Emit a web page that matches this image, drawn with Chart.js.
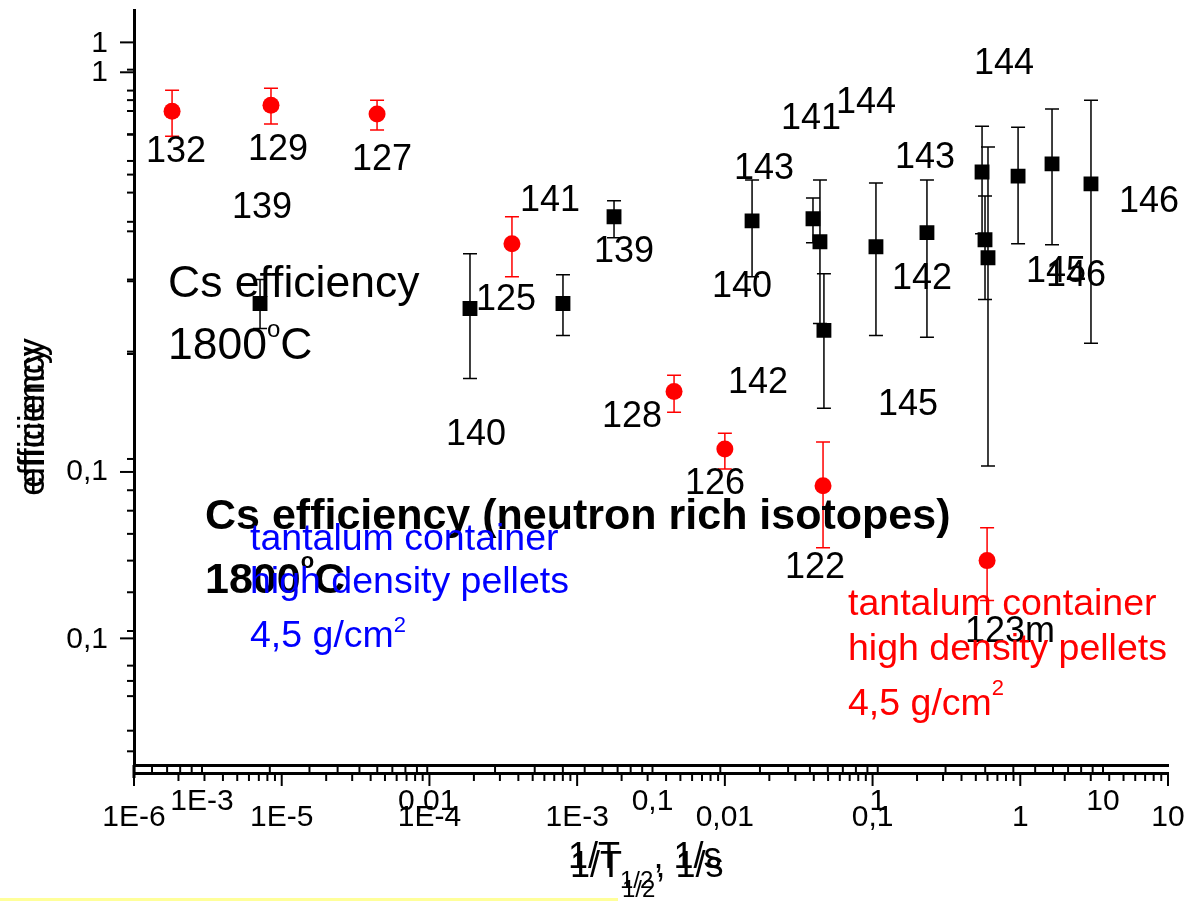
<!DOCTYPE html>
<html>
<head>
<meta charset="utf-8">
<script src="https://cdn.jsdelivr.net/npm/chart.js@4.4.1/dist/chart.umd.min.js"></script>
<style>
  html, body { margin: 0; padding: 0; background: #fff; }
  #wrap { width: 1188px; height: 901px; }
</style>
</head>
<body>
<div id="wrap"><canvas id="cs-chart" width="1188" height="901"></canvas></div>
<script>
// tantalum container, high density pellets (red) - 1/T1/2 in 1/s, efficiency
const redIsotopes = ['132', '129', '127', '125', '128', '126', '122', '123m'];
const redRate = [1.81e-6, 8.46e-6, 4.42e-5, 3.62e-4, 4.53e-3, 1.0e-2, 4.62e-2, 0.596];
const redEff = [0.799, 0.827, 0.786, 0.3725, 0.159, 0.1141, 0.0923, 0.060];
const redEffLow = [0.692, 0.742, 0.717, 0.308, 0.1411, 0.1017, 0.0646, 0.0477];
const redEffHigh = [0.902, 0.912, 0.851, 0.435, 0.1746, 0.125, 0.1188, 0.0725];

// neutron rich isotopes (black squares), main axes
const nrIsotopes = ['139', '140', '141', '143', '142', '144', '145', '146'];
const nrRate = [1.777e-3, 1.528e-2, 3.95e-2, 0.551, 0.577, 0.966, 1.64, 3.01];
const nrEff = [0.435, 0.425, 0.43, 0.563, 0.381, 0.55, 0.59, 0.526];
const nrEffLow = [0.3855, 0.308, 0.3746, 0.3945, 0.27, 0.3725, 0.3703, 0.2098];
const nrEffHigh = [0.4768, 0.538, 0.485, 0.733, 0.4906, 0.729, 0.809, 0.851];

// the same isotopes again on the second (overlaid) pair of axes
const nr2Isotopes = ['139', '140', '141', '142', '143', '144', '145', '146'];
const nr2Rate = [1.81e-3, 1.548e-2, 4.005e-2, 0.577, 0.554, 0.982, 1.654, 3.087];
const nr2Eff = [0.3646, 0.3577, 0.3646, 0.3287, 0.4629, 0.4541, 0.4794, 0.4352];
const nr2EffLow = [0.331, 0.273, 0.3224, 0.2433, 0.3376, 0.3224, 0.32, 0.1947];
const nr2EffHigh = [0.4, 0.442, 0.4076, 0.409, 0.5878, 0.581, 0.5878, 0.6675];

const FONT = '"Liberation Sans", Arial, sans-serif';
const TICK_FONT = '30px ' + FONT;

function isPow10(v) {
  const l = Math.log10(v);
  return Math.abs(l - Math.round(l)) < 1e-6;
}

// labels only on decades, with decimal commas like the original
function decadeLabel(v) {
  if (!isPow10(v)) return '';
  const e = Math.round(Math.log10(v));
  if (e <= -3) return '1E' + e;
  if (e === -2) return '0,01';
  if (e === -1) return '0,1';
  return String(Math.pow(10, e));
}

function decadeTicks(scale) {
  const out = [];
  const lo = Math.floor(Math.log10(scale.min));
  const hi = Math.ceil(Math.log10(scale.max));
  for (let e = lo; e <= hi; e++) {
    for (let m = 1; m < 10; m++) {
      const v = m * Math.pow(10, e);
      if (v >= scale.min * 0.9999 && v <= scale.max * 1.0001) out.push({ value: v });
    }
  }
  scale.ticks = out;
}

// secondary axes have no room of their own, so their labels are drawn by tickMarks
function logAxis(pos, weight, min, max, padding, size, showLabels) {
  return {
    type: 'logarithmic',
    position: pos,
    weight: weight,
    min: min,
    max: max,
    grid: { display: false, drawTicks: false, tickLength: 0 },
    border: { display: true, color: '#000', width: 3 },
    ticks: {
      display: showLabels,
      font: { family: FONT, size: 30 },
      color: '#000',
      padding: padding,
      autoSkip: false,
      maxRotation: 0,
      minRotation: 0,
      callback: decadeLabel,
    },
    afterBuildTicks: decadeTicks,
    afterFit: (s) => {
      if (s.isHorizontal()) s.height = size;
      else s.width = size;
      s.paddingLeft = 0;
      s.paddingRight = 0;
      s.paddingTop = 0;
      s.paddingBottom = 0;
    },
  };
}

function points(xs, ys) {
  return xs.map((x, i) => ({ x: x, y: ys[i] }));
}

// error bars drawn under the markers
const errorBars = {
  id: 'errorBars',
  beforeDatasetsDraw(chart) {
    const ctx = chart.ctx;
    chart.data.datasets.forEach((ds) => {
      const xs = chart.scales[ds.xAxisID];
      const ys = chart.scales[ds.yAxisID];
      ctx.save();
      ctx.strokeStyle = ds.errColor;
      ctx.lineWidth = 1.5;
      ds.data.forEach((p, j) => {
        const px = xs.getPixelForValue(p.x);
        const top = ys.getPixelForValue(ds.errHigh[j]);
        const bot = ys.getPixelForValue(ds.errLow[j]);
        ctx.beginPath();
        ctx.moveTo(px, top);
        ctx.lineTo(px, bot);
        ctx.moveTo(px - 7, top);
        ctx.lineTo(px + 7, top);
        ctx.moveTo(px - 7, bot);
        ctx.lineTo(px + 7, bot);
        ctx.stroke();
      });
      ctx.restore();
    });
  },
};

// long ticks on decades, short ticks in between, plus the secondary labels
const tickMarks = {
  id: 'tickMarks',
  afterDraw(chart) {
    const ctx = chart.ctx;
    ctx.save();
    ctx.strokeStyle = '#000';
    ctx.fillStyle = '#000';
    ctx.lineWidth = 2;
    [['x', 13, 8], ['x2', 10, 8], ['y', 14, 7], ['y2', 14, 7]].forEach(([id, major, minor]) => {
      const s = chart.scales[id];
      s.ticks.forEach((t) => {
        const len = isPow10(t.value) ? major : minor;
        const p = s.getPixelForValue(t.value);
        ctx.beginPath();
        if (s.isHorizontal()) {
          ctx.moveTo(p, s.top);
          ctx.lineTo(p, s.top + len);
        } else {
          ctx.moveTo(s.right, p);
          ctx.lineTo(s.right - len, p);
        }
        ctx.stroke();
      });
    });

    ctx.font = TICK_FONT;
    ctx.textBaseline = 'middle';
    const x2 = chart.scales.x2;
    ctx.textAlign = 'center';
    x2.ticks.forEach((t) => {
      if (isPow10(t.value)) ctx.fillText(decadeLabel(t.value), x2.getPixelForValue(t.value), x2.top + 37);
    });
    const y2 = chart.scales.y2;
    ctx.textAlign = 'right';
    y2.ticks.forEach((t) => {
      if (isPow10(t.value)) ctx.fillText(decadeLabel(t.value), y2.right - 26, y2.getPixelForValue(t.value) + 1);
    });

    // y axis line runs down through both x axes
    const y = chart.scales.y;
    ctx.lineWidth = 3;
    ctx.beginPath();
    ctx.moveTo(y.right, y.bottom);
    ctx.lineTo(y.right, chart.scales.x.top + 5);
    ctx.stroke();
    ctx.restore();
  },
};

// isotope labels as they sit on the slide
const pointLabels = [
  ['132', 176, 152], ['129', 278, 150], ['127', 382, 160], ['125', 506, 300],
  ['128', 632, 417], ['126', 715, 484], ['122', 815, 568], ['123m', 1010, 632],
  ['139', 262, 208], ['141', 550, 201], ['139', 624, 252], ['140', 476, 435],
  ['143', 764, 169], ['140', 742, 287], ['141', 811, 119], ['144', 866, 103],
  ['142', 758, 383], ['143', 925, 158], ['142', 922, 279], ['145', 908, 405],
  ['144', 1004, 64], ['146', 1149, 202], ['145', 1056, 272], ['146', 1076, 276],
];

function runs(ctx, x, y, parts, color, bold) {
  ctx.fillStyle = color;
  ctx.textAlign = 'left';
  ctx.textBaseline = 'alphabetic';
  let cx = x;
  parts.forEach(([t, size, dy]) => {
    ctx.font = (bold ? 'bold ' : '') + size + 'px ' + FONT;
    ctx.fillText(t, cx, y + dy);
    cx += ctx.measureText(t).width;
  });
}

const slideText = {
  id: 'slideText',
  afterDraw(chart) {
    const ctx = chart.ctx;
    ctx.save();
    ctx.fillStyle = '#000';
    ctx.font = '36px ' + FONT;
    ctx.textAlign = 'center';
    ctx.textBaseline = 'middle';
    pointLabels.forEach(([t, x, y]) => ctx.fillText(t, x, y));

    runs(ctx, 168, 297, [['Cs efficiency', 44.5, 0]], '#000', false);
    runs(ctx, 168, 359, [['1800', 44.5, 0], ['o', 24, -22], ['C', 44.5, 0]], '#000', false);

    runs(ctx, 205, 529, [['Cs efficiency (neutron rich isotopes)', 43, 0]], '#000', true);
    runs(ctx, 205, 593, [['1800', 43, 0], ['o', 22, -25], ['C', 43, 0]], '#000', true);

    runs(ctx, 250, 550, [['tantalum container', 37.5, 0]], '#0000ff', false);
    runs(ctx, 250, 593, [['high density pellets', 37.5, 0]], '#0000ff', false);
    runs(ctx, 250, 647, [['4,5 g/cm', 37.5, 0], ['2', 22, -15]], '#0000ff', false);

    runs(ctx, 848, 615, [['tantalum container', 37.5, 0]], '#ff0000', false);
    runs(ctx, 848, 660, [['high density pellets', 37.5, 0]], '#ff0000', false);
    runs(ctx, 848, 715, [['4,5 g/cm', 37.5, 0], ['2', 22, -20]], '#ff0000', false);

    // axis titles, doubled as in the overlaid original
    [[0, 0], [2, 9]].forEach(([dx, dy]) => {
      runs(ctx, 568 + dx, 868 + dy, [['1/T', 36, 0], ['1/2', 24, 20], [', 1/s', 36, 0]], '#000', false);
    });
    [0, 8].forEach((dy) => {
      ctx.save();
      ctx.translate(44, 413 + dy);
      ctx.rotate(-Math.PI / 2);
      ctx.font = '36px ' + FONT;
      ctx.textAlign = 'center';
      ctx.textBaseline = 'alphabetic';
      ctx.fillStyle = '#000';
      ctx.fillText('efficiency', 0, 0);
      ctx.restore();
    });

    ctx.fillStyle = '#ffff99';
    ctx.fillRect(0, 898, 618, 3);
    ctx.restore();
  },
};

new Chart(document.getElementById('cs-chart'), {
  type: 'scatter',
  data: {
    datasets: [
      {
        label: 'Ta container',
        data: points(redRate, redEff),
        xAxisID: 'x',
        yAxisID: 'y',
        pointStyle: 'circle',
        pointRadius: 8.5,
        backgroundColor: '#ff0000',
        borderWidth: 0,
        errLow: redEffLow,
        errHigh: redEffHigh,
        errColor: '#ff0000',
      },
      {
        label: 'neutron rich',
        data: points(nrRate, nrEff),
        xAxisID: 'x',
        yAxisID: 'y',
        pointStyle: 'rect',
        pointRadius: 10.5,
        backgroundColor: '#000',
        borderWidth: 0,
        errLow: nrEffLow,
        errHigh: nrEffHigh,
        errColor: '#000',
      },
      {
        label: 'neutron rich (2nd axes)',
        data: points(nr2Rate, nr2Eff),
        xAxisID: 'x2',
        yAxisID: 'y2',
        pointStyle: 'rect',
        pointRadius: 10.5,
        backgroundColor: '#000',
        borderWidth: 0,
        errLow: nr2EffLow,
        errHigh: nr2EffHigh,
        errColor: '#000',
      },
    ],
  },
  options: {
    responsive: false,
    animation: false,
    events: [],
    layout: { padding: { top: 8, right: 20, left: 0, bottom: 0 } },
    plugins: {
      legend: { display: false },
      tooltip: { enabled: false },
    },
    scales: {
      x: logAxis('bottom', 1, 1e-6, 10, 27, 128, true),
      x2: logAxis('bottom', 0, 4.99e-4, 19.44, 21, 8, false),
      y: logAxis('left', 1, 0.018483, 1.4276, 26, 134, true),
      y2: logAxis('left', 0, 0.061311, 1.1311, 26, 0, false),
    },
  },
  plugins: [errorBars, tickMarks, slideText],
});
</script>
</body>
</html>
